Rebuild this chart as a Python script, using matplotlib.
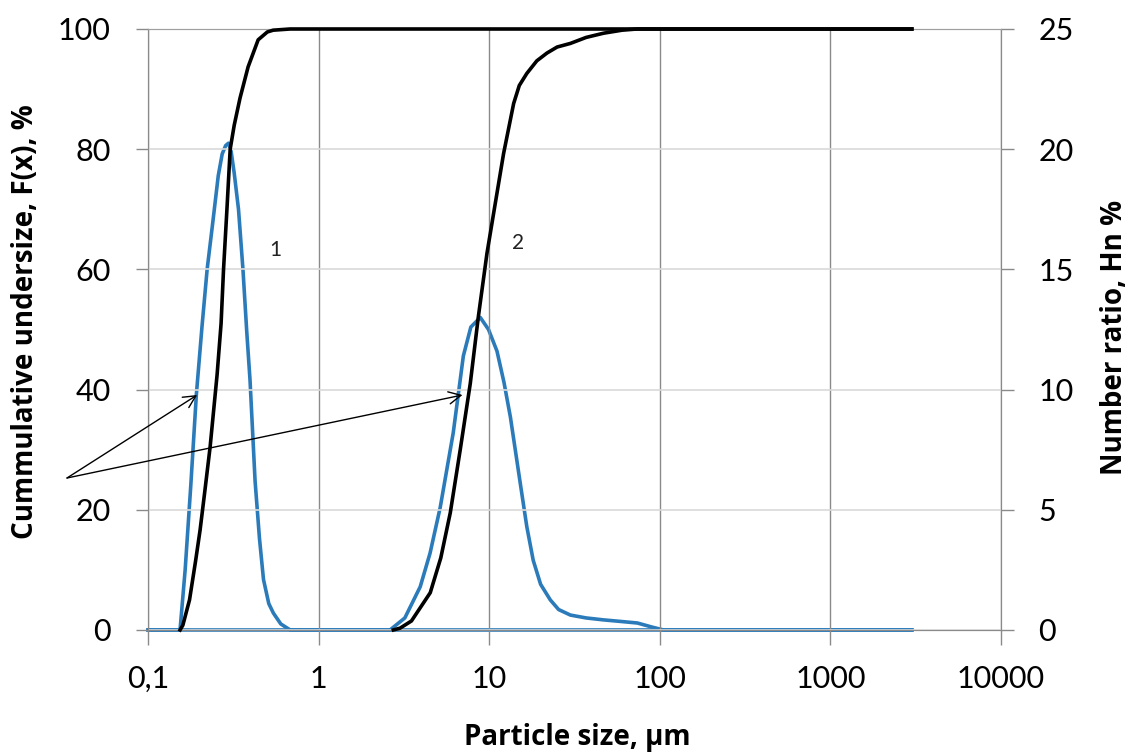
import matplotlib
matplotlib.use("Agg")
import matplotlib.pyplot as plt
from matplotlib.ticker import FixedLocator, FixedFormatter, NullLocator

plt.rcParams["font.family"] = ["Lato", "DejaVu Sans"]

# sample 1: cumulative undersize F(x), % (left axis)
size_f1 = [0.154, 0.160, 0.175, 0.19, 0.2018, 0.215, 0.231, 0.254, 0.268, 0.277,
           0.29, 0.303, 0.32, 0.346, 0.386, 0.442, 0.5, 0.541, 0.68, 3000]
cum_f1 = [0, 0.8, 5, 11.5, 16.6, 23, 30.4, 42.5, 51, 60,
          70, 80, 84, 88.5, 93.7, 98.2, 99.5, 99.8, 100, 100]

# sample 2: cumulative undersize F(x), %
size_f2 = [2.74, 3.0, 3.5, 4.51, 5.2, 5.91, 6.76, 7.74, 8.62, 9.70, 10.85, 12.14,
           13.9, 15.0, 16.6, 19.0, 21.8, 25.0, 29.9, 37.0, 46.8, 60.0, 73.5, 3000]
cum_f2 = [0, 0.3, 1.5, 6.2, 12, 19.5, 30, 41, 52, 62.7, 71, 79.3,
          87.6, 90.6, 92.6, 94.7, 96, 97, 97.6, 98.6, 99.3, 99.8, 100, 100]

# sample 1: number ratio Hn, % (right axis)
size_h1 = [0.1, 0.154, 0.165, 0.178, 0.192, 0.207, 0.222, 0.240, 0.258, 0.272, 0.285,
           0.296, 0.307, 0.320, 0.339, 0.360, 0.379, 0.396, 0.424, 0.450, 0.475,
           0.510, 0.543, 0.60, 0.681, 3000]
hn_1 = [0, 0, 2.5, 6.0, 9.8, 12.6, 15.0, 17.0, 18.9, 19.8, 20.15,
        20.25, 19.9, 19.0, 17.5, 15.0, 12.4, 10.4, 6.2, 3.8, 2.1,
        1.1, 0.7, 0.25, 0, 0]

# sample 2: number ratio Hn, %
size_h2 = [0.1, 2.62, 3.2, 3.94, 4.5, 5.16, 6.15, 7.05, 7.8, 8.86, 9.9, 11.1, 12.2,
           13.3, 15.2, 16.6, 18.1, 20.0, 22.8, 25.5, 29.9, 37.0, 46.7, 60.0, 73.8,
           90.0, 105, 3000]
hn_2 = [0, 0, 0.5, 1.8, 3.2, 5.1, 8.2, 11.4, 12.6, 13.0, 12.5, 11.6, 10.3,
        8.86, 6.1, 4.3, 2.9, 1.9, 1.25, 0.85, 0.62, 0.5, 0.42, 0.35, 0.29,
        0.12, 0, 0]

x_ticks = [0.1, 1, 10, 100, 1000, 10000]
x_tick_labels = ["0,1", "1", "10", "100", "1000", "10000"]
f_ticks = [0, 20, 40, 60, 80, 100]
hn_ticks = [0, 5, 10, 15, 20, 25]

blue = "#2b7bba"
grid_light = "#d9d9d9"
grid_dark = "#8a8a8a"

fig = plt.figure(figsize=(11.31, 7.55), dpi=100)
ax = fig.add_axes([0.1309, 0.1656, 0.7542, 0.796])
ax2 = ax.twinx()

ax.set_xscale("log")
ax.set_xlim(0.1, 10000)
ax.set_ylim(0, 100)
ax2.set_ylim(0, 25)

ax.xaxis.set_major_locator(FixedLocator(x_ticks))
ax.xaxis.set_major_formatter(FixedFormatter(x_tick_labels))
ax.xaxis.set_minor_locator(NullLocator())
ax.set_yticks(f_ticks)
ax2.set_yticks(hn_ticks)

ax.grid(axis="y", color=grid_light, linewidth=1.2)
ax.grid(axis="x", color=grid_dark, linewidth=1.0)
ax.set_axisbelow(True)

for a in (ax, ax2):
    for side in ("left", "right", "bottom"):
        a.spines[side].set_color(grid_dark)
    a.spines["top"].set_color("#a0a0a0")

ax.tick_params(axis="x", length=11, width=1, color=grid_dark, labelsize=22, pad=14)
ax.tick_params(axis="y", length=9, width=1, color=grid_dark, labelsize=22, pad=18)
ax2.tick_params(axis="y", length=9, width=1, color=grid_dark, labelsize=22, pad=18)

# number ratio curves on the right axis, cumulative curves on the left
ax2.plot(size_h1, hn_1, color=blue, linewidth=2.6, zorder=3, clip_on=False)
ax2.plot(size_h2, hn_2, color=blue, linewidth=2.6, zorder=3, clip_on=False)
ax.plot(size_f1, cum_f1, color="black", linewidth=2.6, zorder=4, clip_on=False)
ax.plot(size_f2, cum_f2, color="black", linewidth=2.6, zorder=4, clip_on=False)
ax.set_zorder(ax2.get_zorder() + 1)
ax.patch.set_visible(False)

ax.text(0.556, 63.2, "1", fontsize=15, ha="center", va="center", color="#222222")
ax.text(14.8, 64.4, "2", fontsize=15, ha="center", va="center", color="#222222")

for tx in (0.194, 6.97):
    ax.annotate("", xy=(tx, 39.1), xycoords="data",
                xytext=(67 / 1131, 1 - 478 / 755), textcoords="figure fraction",
                arrowprops=dict(arrowstyle="->", color="black", lw=1.0,
                                mutation_scale=22, shrinkA=0, shrinkB=0),
                annotation_clip=False)

label_font = dict(family=["Open Sans", "DejaVu Sans"], fontsize=20, fontweight="bold")
fig.text(577 / 1131, 1 - 737 / 755, "Particle size, µm", ha="center", va="center",
         **label_font)
fig.text(26 / 1131, 1 - 322 / 755, "Cummulative undersize, F(x), %", rotation=90,
         ha="center", va="center", **label_font)
fig.text(1115 / 1131, 1 - 337 / 755, "Number ratio, Hn %", rotation=90,
         ha="center", va="center", **label_font)

fig.savefig("out.png", dpi=100)
